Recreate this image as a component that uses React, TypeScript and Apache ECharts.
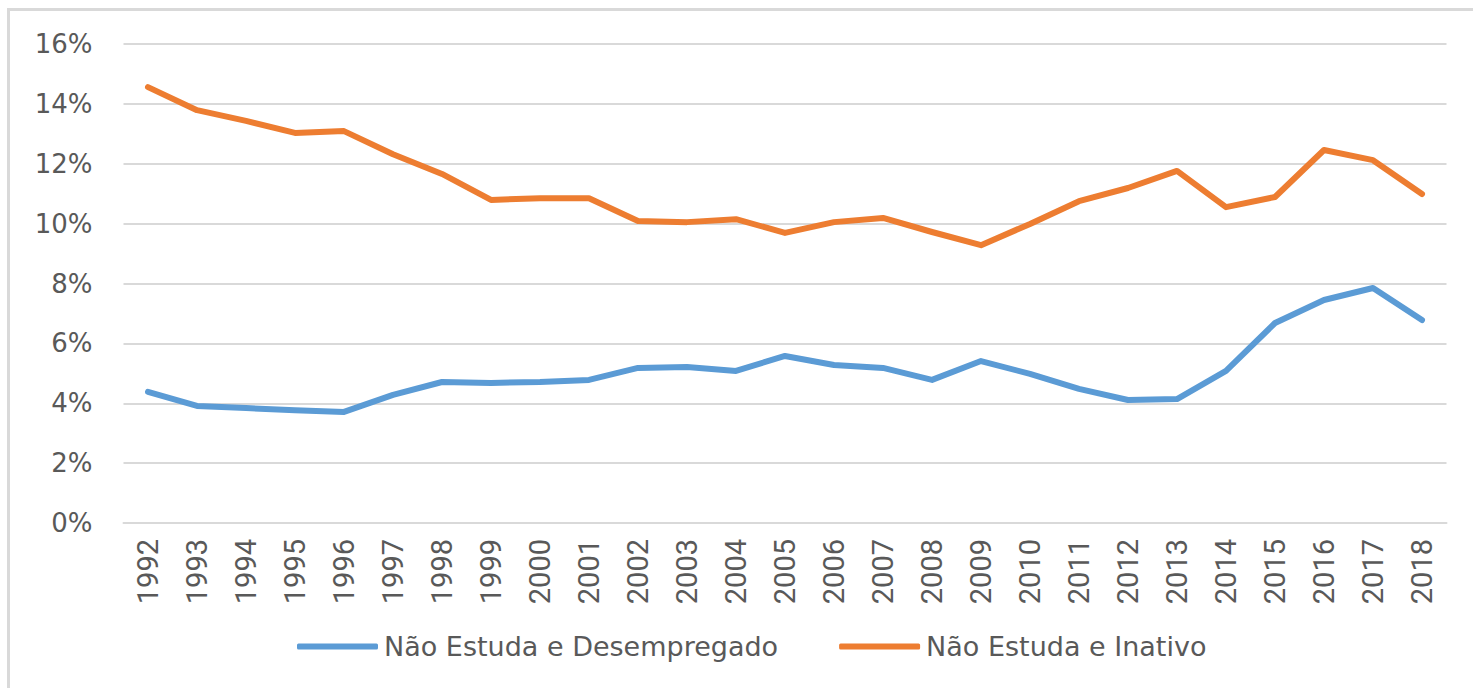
import React, { useEffect, useRef } from "react";
import * as echarts from "echarts";

const years = [
  "1992", "1993", "1994", "1995", "1996", "1997", "1998", "1999", "2000",
  "2001", "2002", "2003", "2004", "2005", "2006", "2007", "2008", "2009",
  "2010", "2011", "2012", "2013", "2014", "2015", "2016", "2017", "2018",
];

const desempregado = [
  4.38, 3.91, 3.84, 3.77, 3.71, 4.28, 4.71, 4.68, 4.71,
  4.78, 5.18, 5.21, 5.08, 5.58, 5.28, 5.18, 4.78, 5.41,
  4.98, 4.48, 4.11, 4.14, 5.08, 6.68, 7.45, 7.85, 6.78,
];

const inativo = [
  14.56, 13.79, 13.43, 13.03, 13.09, 12.32, 11.66, 10.79, 10.85,
  10.85, 10.09, 10.05, 10.15, 9.69, 10.05, 10.19, 9.72, 9.28,
  9.99, 10.75, 11.19, 11.76, 10.55, 10.89, 12.46, 12.12, 10.99,
];

const seriesNames = ["Não Estuda e Desempregado", "Não Estuda e Inativo"];

export default function App() {
  const ref = useRef<HTMLDivElement>(null);

  useEffect(() => {
    document.body.style.margin = "0";
    const chart = echarts.init(ref.current!, null, { renderer: "svg" });
    const textColor = "#595959";
    chart.setOption({
      animation: false,
      backgroundColor: "#ffffff",
      grid: { left: 123.5, right: 26.5, top: 44, bottom: 165 },
      graphic: [
        { type: "line", shape: { x1: 7, y1: 9.5, x2: 1473, y2: 9.5 }, style: { stroke: "#D9D9D9", lineWidth: 3 } },
        { type: "line", shape: { x1: 8.5, y1: 8, x2: 8.5, y2: 688 }, style: { stroke: "#D9D9D9", lineWidth: 3 } },
      ],
      legend: {
        left: 297,
        top: 633,
        padding: 0,
        icon: "roundRect",
        itemWidth: 81,
        itemHeight: 6,
        itemGap: 61,
        textStyle: { color: textColor, fontSize: 27, fontFamily: "DejaVu Sans", padding: [0, 0, 0, 1] },
        data: seriesNames,
      },
      xAxis: {
        type: "category",
        data: years,
        boundaryGap: true,
        axisLine: { lineStyle: { color: "#D9D9D9", width: 2 } },
        axisTick: { show: false },
        axisLabel: {
          rotate: 90,
          margin: 16,
          color: textColor,
          fontSize: 29,
          fontFamily: "Liberation Sans Narrow, Roboto, sans-serif",
          interval: 0,
        },
      },
      yAxis: {
        type: "value",
        min: 0,
        max: 16,
        interval: 2,
        axisLine: { show: false },
        axisTick: { show: false },
        splitLine: { lineStyle: { color: "#D9D9D9", width: 2 } },
        axisLabel: {
          margin: 31,
          color: textColor,
          fontSize: 26,
          fontFamily: "DejaVu Sans",
          formatter: (v: number) => `${v}%`,
        },
      },
      series: [
        {
          name: seriesNames[0],
          type: "line",
          data: desempregado,
          symbol: "none",
          color: "#5B9BD5",
          lineStyle: { width: 6, color: "#5B9BD5", cap: "round", join: "round" },
        },
        {
          name: seriesNames[1],
          type: "line",
          data: inativo,
          symbol: "none",
          color: "#ED7D31",
          lineStyle: { width: 6, color: "#ED7D31", cap: "round", join: "round" },
        },
      ],
    });
    return () => chart.dispose();
  }, []);

  return <div ref={ref} style={{ width: 1473, height: 688 }} />;
}
